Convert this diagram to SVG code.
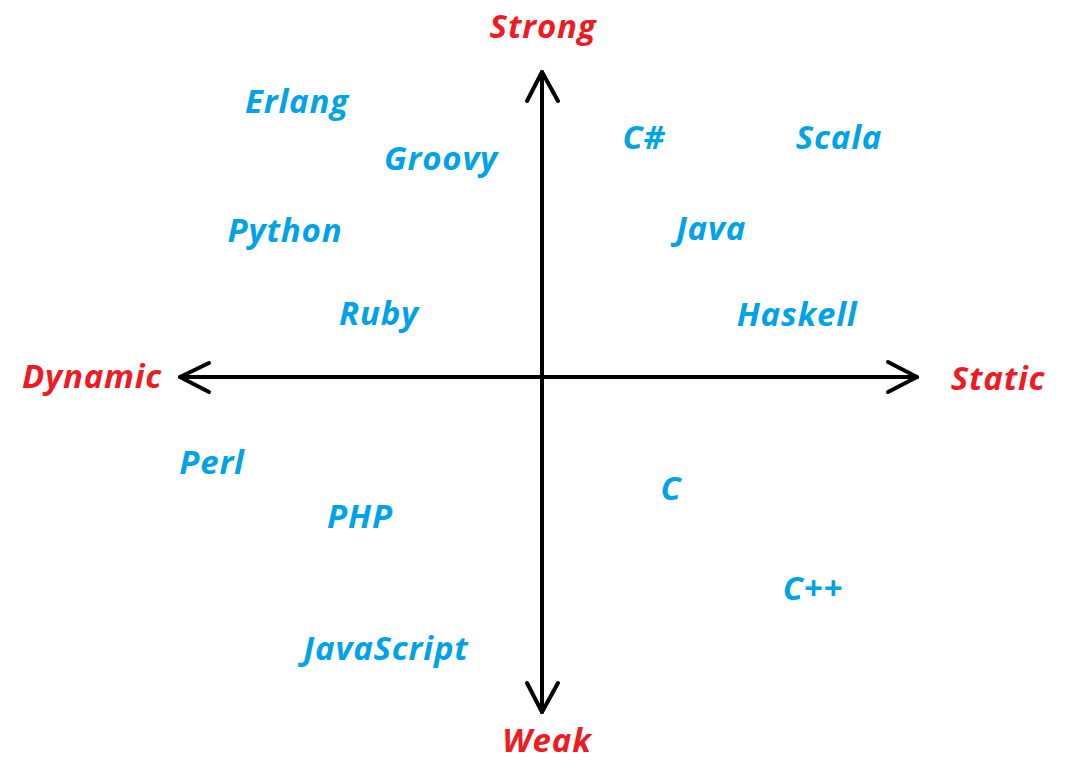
<svg xmlns="http://www.w3.org/2000/svg" width="1067" height="763" viewBox="0 0 1067 763">
<style>
text{font-family:"Open Sans","Noto Sans","Liberation Sans",sans-serif;font-weight:bold;font-style:italic;font-size:33px;letter-spacing:0.8px;text-anchor:middle}
.axis{fill:#ED1C24}
.lang{fill:#00A2E8}
.ax{stroke:#000;stroke-width:4;fill:none;stroke-linecap:round;stroke-linejoin:round}
</style>
<rect width="1067" height="763" fill="#fff"/>
<g id="connectors">
<path class="ax" d="M542,72 V712"/>
<path class="ax" d="M180,377 H917"/>
<path class="ax" d="M527,101 L542,72 L558,101"/>
<path class="ax" d="M527,683 L542,712 L558,683"/>
<path class="ax" d="M209,363 L180,377 L209,392"/>
<path class="ax" d="M888,362 L917,377 L888,392"/>
</g>
<g id="strong"><text class="axis" x="543" y="38">Strong</text></g>
<g id="weak"><text class="axis" x="547" y="752">Weak</text></g>
<g id="dynamic"><text class="axis" x="92" y="388">Dynamic</text></g>
<g id="static"><text class="axis" x="998" y="390">Static</text></g>
<g id="erlang"><text class="lang" x="297" y="113">Erlang</text></g>
<g id="groovy"><text class="lang" x="441" y="170">Groovy</text></g>
<g id="python"><text class="lang" x="285" y="242">Python</text></g>
<g id="ruby"><text class="lang" x="379" y="325">Ruby</text></g>
<g id="csharp"><text class="lang" x="644" y="149">C#</text></g>
<g id="scala"><text class="lang" x="839" y="149">Scala</text></g>
<g id="java"><text class="lang" x="711" y="240">Java</text></g>
<g id="haskell"><text class="lang" x="797" y="326">Haskell</text></g>
<g id="perl"><text class="lang" x="212" y="474">Perl</text></g>
<g id="php"><text class="lang" x="360" y="528">PHP</text></g>
<g id="c"><text class="lang" x="671" y="500">C</text></g>
<g id="cpp"><text class="lang" x="813" y="600">C++</text></g>
<g id="javascript"><text class="lang" x="386" y="660">JavaScript</text></g>
</svg>
